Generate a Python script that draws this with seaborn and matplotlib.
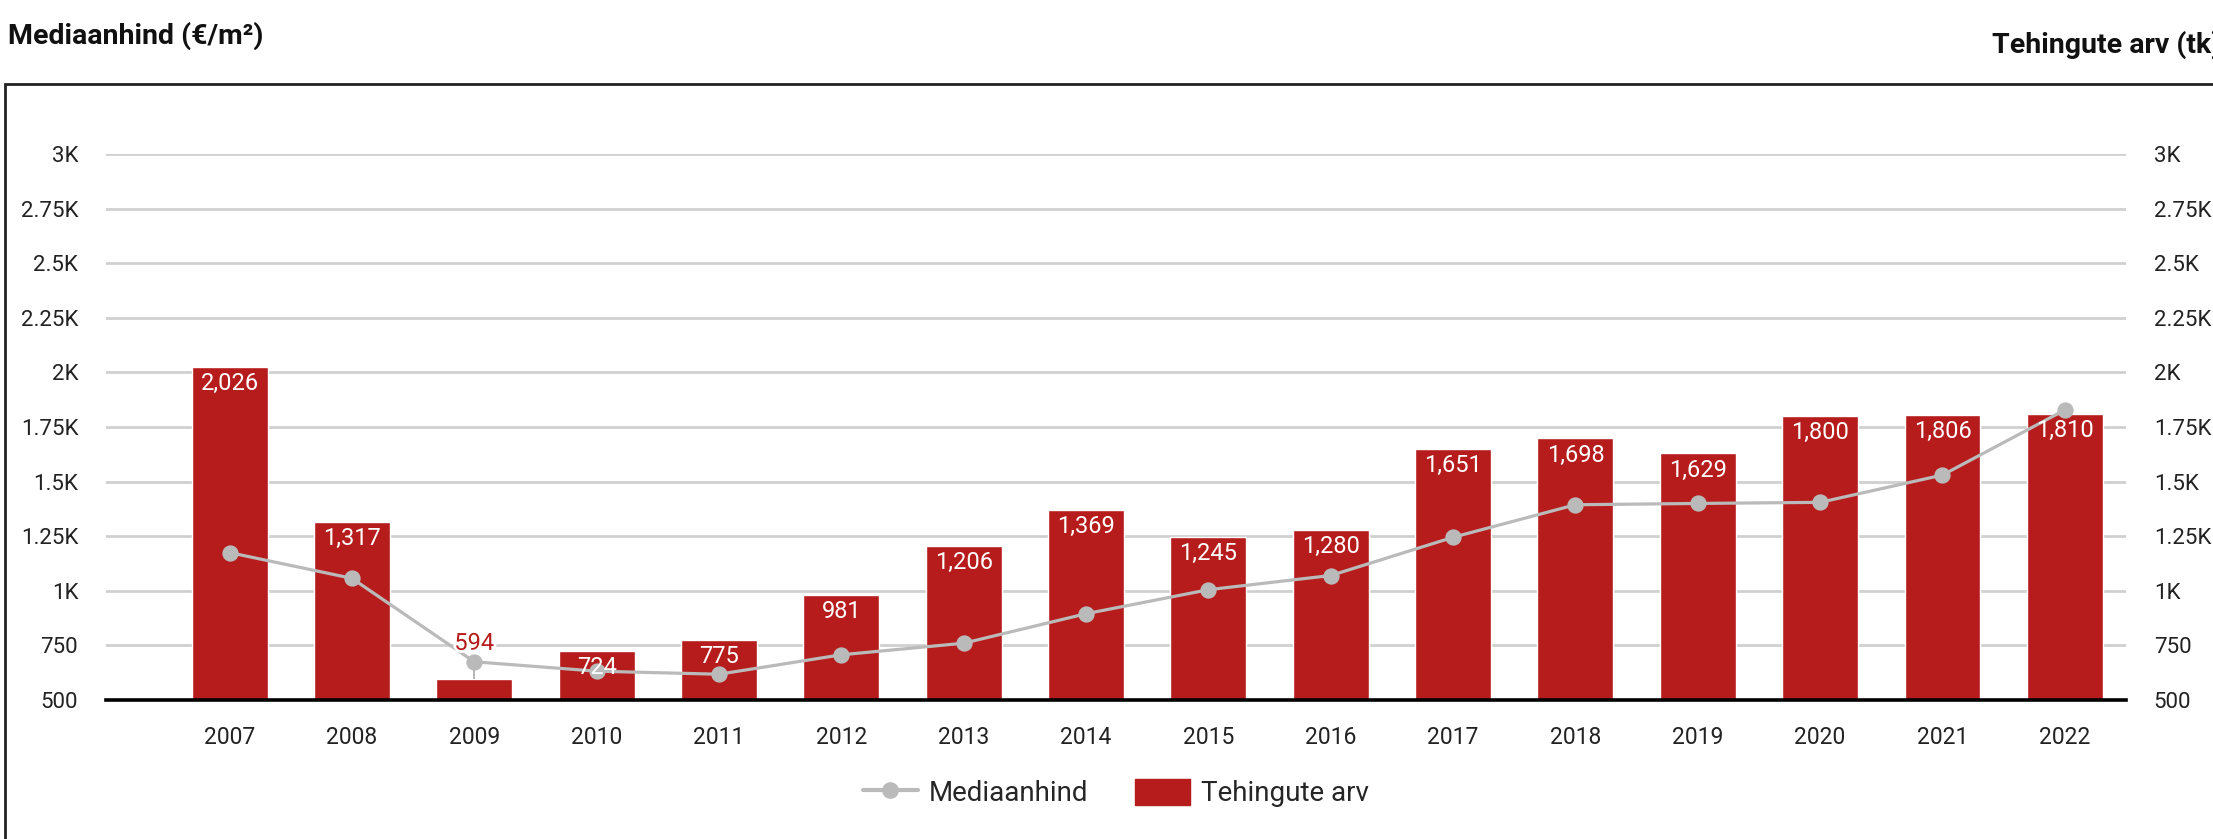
import matplotlib
matplotlib.use("Agg")
import matplotlib.pyplot as plt
import matplotlib.patheffects as pe
from matplotlib.lines import Line2D
from matplotlib.patches import Patch, Rectangle
from matplotlib.ticker import FuncFormatter
import seaborn as sns
import pandas as pd

# data
years = ["2007", "2008", "2009", "2010", "2011", "2012", "2013", "2014",
         "2015", "2016", "2017", "2018", "2019", "2020", "2021", "2022"]
tehingute_arv = [2026, 1317, 594, 724, 775, 981, 1206, 1369,
                 1245, 1280, 1651, 1698, 1629, 1800, 1806, 1810]
mediaanhind = [1175, 1057, 675, 632, 618, 707, 760, 895,
               1005, 1070, 1245, 1394, 1400, 1405, 1530, 1828]
y_ticks = [500, 750, 1000, 1250, 1500, 1750, 2000, 2250, 2500, 2750, 3000]

bar_color = "#b71c1c"
line_color = "#bababa"
grid_color = "#d0d0d0"

df = pd.DataFrame({"aasta": years, "arv": tehingute_arv, "hind": mediaanhind})

sns.set_theme(style="white")
plt.rcParams["font.family"] = ["Roboto", "DejaVu Sans"]

fig = plt.figure(figsize=(22.13, 8.39), dpi=100)
ax = fig.add_axes([106 / 2213, 1 - 700 / 839, (2126 - 106) / 2213, (700 - 154) / 839])

# bars: start at the axis floor (500)
sns.barplot(data=df, x="aasta", y="arv", color=bar_color, saturation=1,
            width=0.62, ax=ax, zorder=2)
sns.pointplot(data=df, x="aasta", y="hind", color=line_color, markers="o",
              markersize=10, linewidth=2.3, ax=ax, zorder=4)

ax.set_ylim(500, 3000)
ax.set_xlim(-1.01, 15.5)
ax.set_yticks(y_ticks)

def fmt(v, pos):
    if v < 1000:
        return f"{int(v)}"
    return f"{v / 1000:g}K"

ax.yaxis.set_major_formatter(FuncFormatter(fmt))
ax.tick_params(axis="y", labelright=True, left=False, right=False,
               labelsize=16, pad=14, labelcolor="#222222")
ax.tick_params(axis="x", bottom=False, labelsize=16.5, pad=13, labelcolor="#222222")
ax.set_xlabel("")
ax.set_ylabel("")
ax.grid(axis="y", color=grid_color, linewidth=2, zorder=0)
ax.grid(axis="x", visible=False)
ax.set_axisbelow(True)
for side in ["top", "right", "left"]:
    ax.spines[side].set_visible(False)
ax.spines["bottom"].set_color("black")
ax.spines["bottom"].set_linewidth(2.6)
ax.spines["bottom"].set_zorder(5)

# value labels
for i, v in enumerate(tehingute_arv):
    if v - 500 < 150:
        ax.vlines(i, v, mediaanhind[i], color="#a8a8a8", linewidth=1.2, zorder=3)
        ax.annotate(f"{v:,}", (i, v), xytext=(0, 26), textcoords="offset points",
                    ha="center", va="center", fontsize=17, color=bar_color, zorder=6,
                    path_effects=[pe.withStroke(linewidth=4, foreground="white")])
    else:
        ax.annotate(f"{v:,}", (i, v), xytext=(0, -12), textcoords="offset points",
                    ha="center", va="center", fontsize=17, color="white", zorder=6)

# titles (the right one runs off the edge, as in the source)
fig.text(8 / 2213, 1 - 36 / 839, "Mediaanhind (€/m²)", fontsize=20.5, fontweight="bold",
         ha="left", va="center", color="#111111")
fig.text(1992 / 2213, 1 - 45 / 839, "Tehingute arv (tk)", fontsize=20.5, fontweight="bold",
         ha="left", va="center", color="#111111")

# frame around the chart area
fig.patches.append(Rectangle((5 / 2213, -0.05), 1.1, 1 - 84 / 839 + 0.05,
                             transform=fig.transFigure, fill=False,
                             edgecolor="#222222", linewidth=2))

handles = [
    Line2D([0], [0], color=line_color, linewidth=3, marker="o", markersize=11),
    Patch(facecolor=bar_color, edgecolor=bar_color),
]
fig.legend(handles, ["Mediaanhind", "Tehingute arv"], loc="center",
           bbox_to_anchor=(1116 / 2213, 1 - 793 / 839), ncol=2, frameon=False,
           fontsize=20, handlelength=1.95, handleheight=1.05, columnspacing=1.7,
           handletextpad=0.4)

fig.savefig("out.png", dpi=100)
